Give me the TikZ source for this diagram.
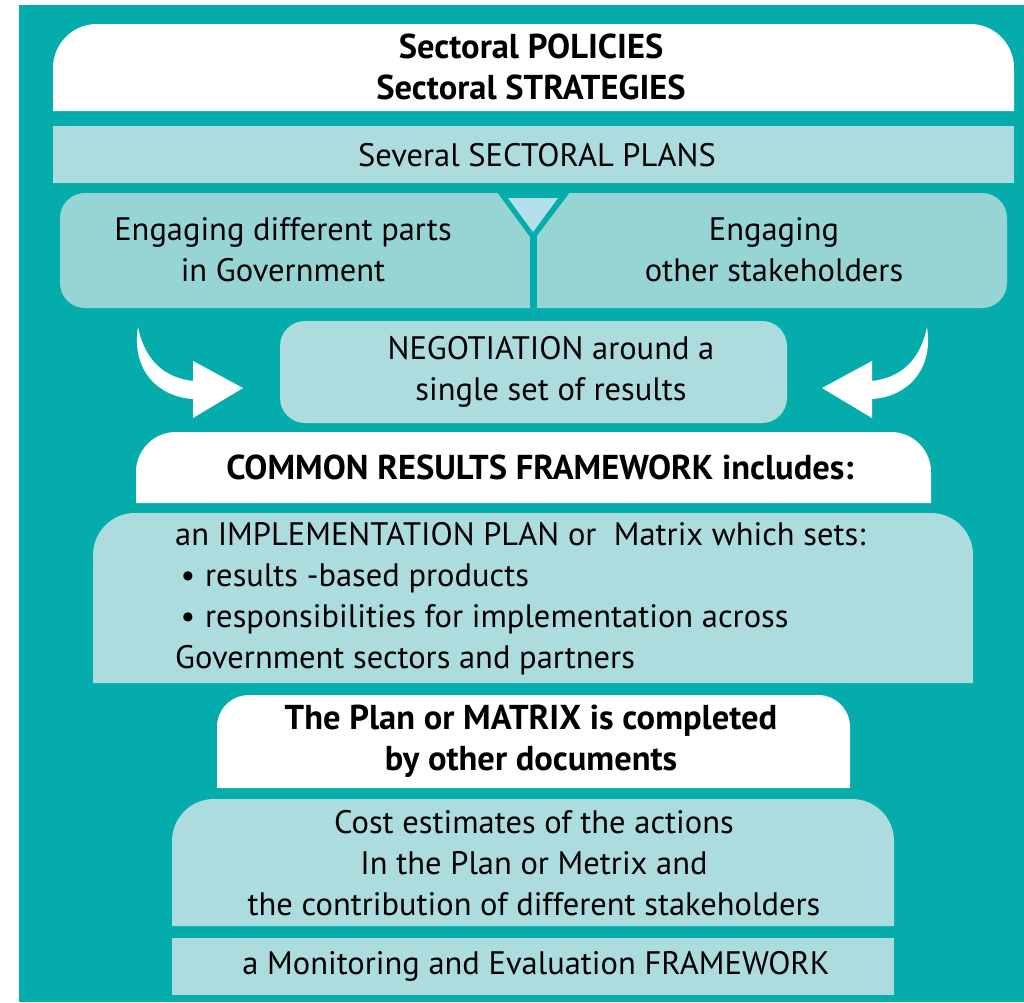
\documentclass[tikz,border=0pt]{standalone}
\usepackage{fontspec}
\setmainfont{PT Sans}
\definecolor{sea}{HTML}{05ACAC}
\definecolor{pale}{HTML}{ACDCDE}
\definecolor{mint}{HTML}{97D5D5}
\definecolor{sky}{HTML}{B3E0EB}
% box with two rounded top corners: x1, y1 (top), x2, y2 (bottom), radius, fill
\newcommand{\tabbox}[6]{\fill[#6] (#1,-#4) -- (#1,{-#2-#5})
  arc[start angle=180,end angle=90,radius=#5pt] -- ({#3-#5},-#2)
  arc[start angle=90,end angle=0,radius=#5pt] -- (#3,-#4) -- cycle;}
\newcommand{\bendarrow}{\fill[white] (138,-327) .. controls (131,-372) and (160,-397) .. (193,-399)
  -- (193,-418) -- (243,-388) -- (193,-361) -- (193,-381)
  .. controls (166,-378) and (145,-362) .. (138,-327) -- cycle;}

\begin{document}
\begin{tikzpicture}[x=1pt,y=1pt,
  txt/.style={font=\fontsize{32.5}{41}\selectfont, align=center, inner sep=0pt},
  hd/.style={txt, font=\fontsize{34.5}{41}\selectfont\bfseries}]
	\useasboundingbox[fill=white] (0,0) rectangle (1024,-1002);
	\fill[sea] (19,-5) rectangle (1024,-1002);
	\tabbox{53}{24}{1014}{111}{44}{white}
	\fill[pale] (53,-126) rectangle (1014,-183);
	\fill[mint, rounded corners=25pt] (60,-193) rectangle (1007,-308);
	\fill[sea] (497,-192) -- (570,-192) -- (533,-241) -- cycle;
	\fill[sky] (508,-198) -- (558,-198) -- (533,-232) -- cycle;
	\fill[sea] (530,-236) rectangle (537,-308);
	\fill[pale, rounded corners=25pt] (280,-321) rectangle (787,-423);
	\bendarrow
	\begin{scope}[xshift=1065pt, xscale=-1]
		\bendarrow
	\end{scope}
	\tabbox{136}{432}{931}{503}{40}{white}
	\tabbox{93}{513}{973}{683}{42}{pale}
	\tabbox{217}{695}{850}{788}{32}{white}
	\tabbox{172}{799}{894}{926}{42}{pale}
	\fill[pale] (172,-938) rectangle (894,-995);

	\node[hd] (policies) at (531,-67) {Sectoral POLICIES\\Sectoral STRATEGIES};
	\node[txt] (plans) at (537,-155) {Several SECTORAL PLANS};
	\node[txt] (govt) at (283,-250) {Engaging different parts\\in Government};
	\node[txt] (stake) at (774,-250) {Engaging\\other stakeholders};
	\node[txt] (negot) at (551,-372) {NEGOTIATION around a\\single set of results};
	\node[hd] (crf) at (540,-467) {COMMON RESULTS FRAMEWORK includes:};
	\node[txt, align=left, anchor=west] (implem) at (175,-599)
	  {an IMPLEMENTATION PLAN or\ \ Matrix which sets:\\
	   \makebox[30pt][l]{\,\textbullet}results -based products\\
	   \makebox[30pt][l]{\,\textbullet}responsibilities for implementation across\\
	   Government sectors and partners};
	\node[hd] (plan) at (531,-741) {The Plan or MATRIX is completed\\by other documents};
	\node[txt] (cost) at (534,-863) {Cost estimates of the actions\\In the Plan or Metrix and\\the contribution of different stakeholders};
	\node[txt] (monitor) at (536,-966) {a Monitoring and Evaluation FRAMEWORK};
\end{tikzpicture}
\end{document}
